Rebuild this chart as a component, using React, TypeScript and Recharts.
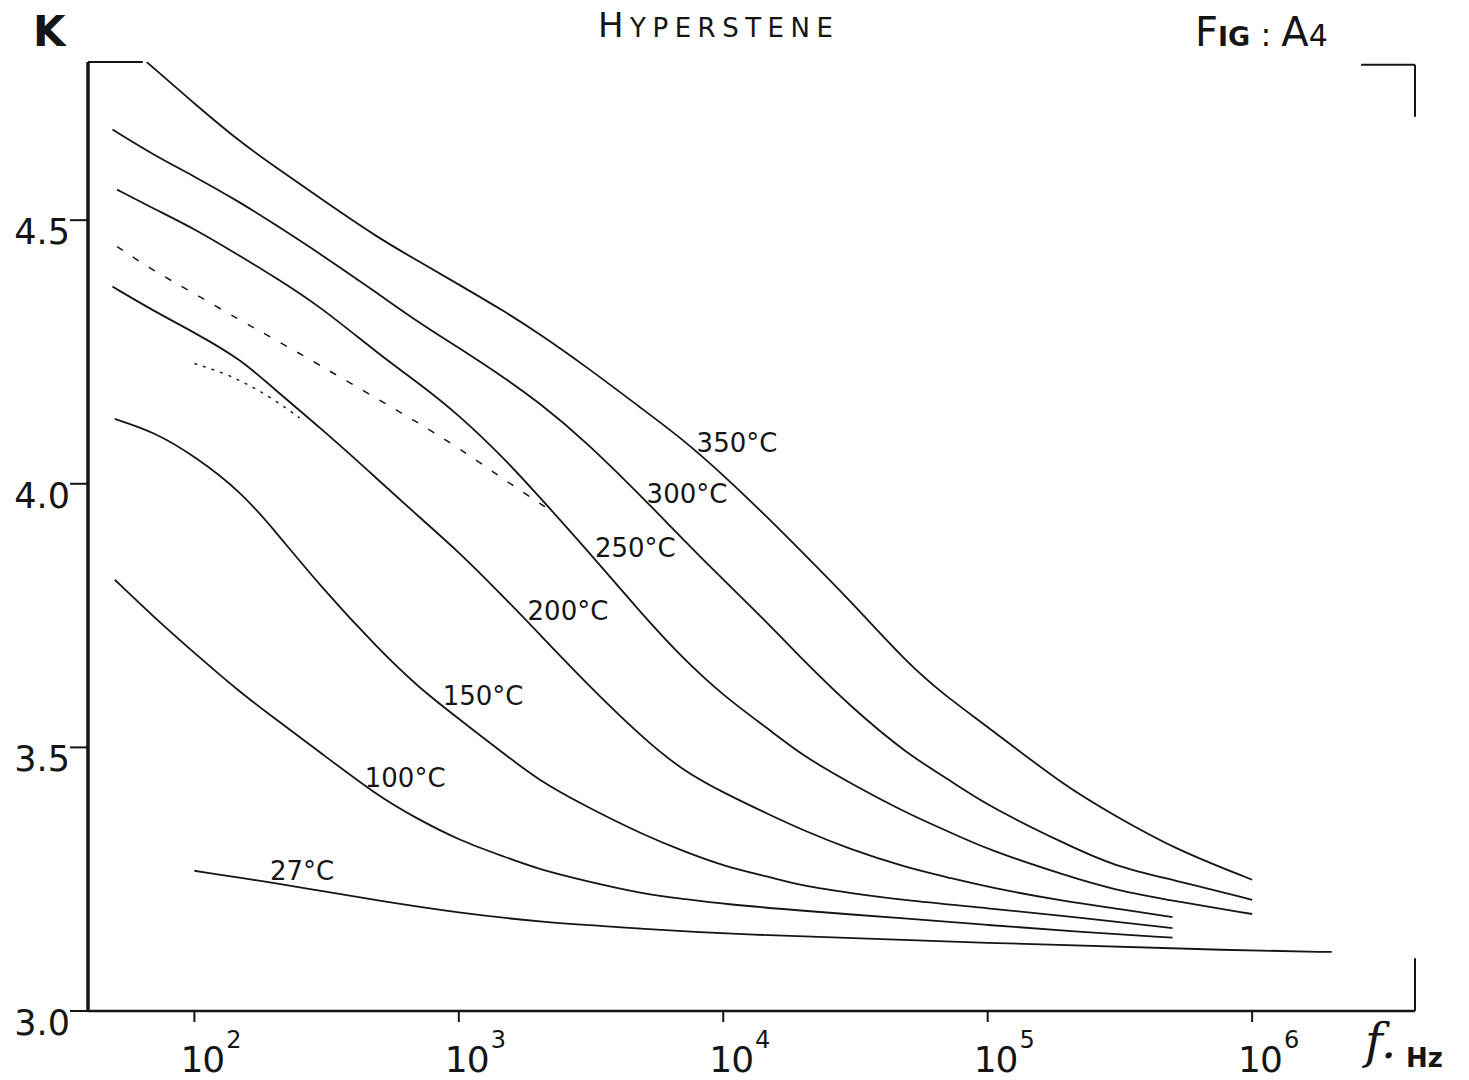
import React from "react";
import { LineChart, Line, XAxis, YAxis, ReferenceLine, ReferenceDot } from "recharts";

// Hyperstene: dielectric constant K vs frequency, at several temperatures
const freqTicks = [1e2, 1e3, 1e4, 1e5, 1e6];
const kTicks = [3.0, 3.5, 4.0, 4.5];

const fA = [66, 100, 150, 200, 300, 500, 700, 1e3, 1.5e3, 2e3, 3e3, 5e3, 7e3, 1e4, 1.5e4, 2e4, 3e4, 5e4, 7e4, 1e5, 2e5, 3e5, 5e5, 1e6];
const k350 = [4.8, 4.721, 4.647, 4.603, 4.541, 4.465, 4.423, 4.378, 4.326, 4.286, 4.224, 4.14, 4.085, 4.017, 3.932, 3.869, 3.78, 3.658, 3.596, 3.539, 3.423, 3.372, 3.309, 3.249];

const fB = [49, 70, 100, 150, 200, 300, 500, 700, 1e3, 1.5e3, 2e3, 3e3, 5e3, 7e3, 1e4, 1.5e4, 2e4, 3e4, 5e4, 7e4, 1e5, 2e5, 3e5, 5e5, 1e6];
const k300 = [4.672, 4.624, 4.583, 4.533, 4.493, 4.436, 4.359, 4.307, 4.258, 4.2, 4.155, 4.082, 3.972, 3.896, 3.818, 3.732, 3.666, 3.579, 3.486, 3.442, 3.389, 3.315, 3.275, 3.249, 3.211];

const fC = [51, 70, 100, 150, 200, 300, 500, 700, 1e3, 1.5e3, 2e3, 3e3, 5e3, 7e3, 1e4, 1.5e4, 2e4, 3e4, 5e4, 7e4, 1e5, 2e5, 3e5, 5e5, 1e6];
const k250 = [4.558, 4.522, 4.484, 4.431, 4.393, 4.336, 4.245, 4.192, 4.131, 4.046, 3.977, 3.879, 3.749, 3.67, 3.598, 3.533, 3.484, 3.433, 3.374, 3.342, 3.306, 3.256, 3.23, 3.209, 3.184];

// dashed branch joining the 250°C curve
const fDash = [51, 70, 100, 150, 200, 300, 500, 700, 1e3, 1.5e3, 2.2e3];
const kDash = [4.45, 4.404, 4.361, 4.309, 4.275, 4.224, 4.159, 4.116, 4.068, 4.006, 3.951];

const fD = [49, 70, 100, 150, 200, 300, 500, 700, 1e3, 1.5e3, 2e3, 3e3, 5e3, 7e3, 1e4, 1.5e4, 2e4, 3e4, 5e4, 7e4, 1e5, 2e5, 3e5, 5e5];
const k200 = [4.374, 4.328, 4.287, 4.236, 4.18, 4.106, 4.006, 3.939, 3.871, 3.782, 3.717, 3.624, 3.516, 3.457, 3.414, 3.372, 3.343, 3.307, 3.271, 3.254, 3.235, 3.207, 3.195, 3.178];

// dotted branch joining the 200°C curve
const fDot = [100, 130, 160, 200, 250];
const kDot = [4.228, 4.21, 4.188, 4.16, 4.125];

const fE = [50, 70, 100, 150, 200, 300, 500, 700, 1e3, 1.5e3, 2e3, 3e3, 5e3, 7e3, 1e4, 1.5e4, 2e4, 3e4, 5e4, 1e5, 2e5, 5e5];
const k150 = [4.123, 4.099, 4.053, 3.985, 3.913, 3.805, 3.685, 3.615, 3.554, 3.486, 3.438, 3.389, 3.334, 3.304, 3.275, 3.254, 3.237, 3.224, 3.209, 3.195, 3.18, 3.157];

const fF = [50, 70, 100, 150, 200, 300, 500, 700, 1e3, 1.5e3, 2e3, 3e3, 5e3, 7e3, 1e4, 2e4, 5e4, 1e5, 2e5, 5e5];
const k100 = [3.818, 3.748, 3.679, 3.603, 3.556, 3.49, 3.406, 3.364, 3.324, 3.292, 3.269, 3.247, 3.222, 3.213, 3.203, 3.19, 3.175, 3.163, 3.152, 3.139];

const fG = [100, 200, 300, 500, 1e3, 2e3, 5e3, 1e4, 1e5, 1e6, 2e6];
const k27 = [3.266, 3.243, 3.228, 3.209, 3.186, 3.169, 3.156, 3.146, 3.129, 3.114, 3.112];

const curveLabels = [
  { text: "350°C", f: 7.93e3, k: 4.061 },
  { text: "300°C", f: 5.13e3, k: 3.964 },
  { text: "250°C", f: 3.27e3, k: 3.861 },
  { text: "200°C", f: 1.82e3, k: 3.742 },
  { text: "150°C", f: 869, k: 3.581 },
  { text: "100°C", f: 441, k: 3.425 },
  { text: "27°C", f: 193, k: 3.249 },
];

const F_MIN = 39.6;
const F_MAX = 4.13e6;
const K_MIN = 3.0;
const K_MAX = 4.8;

const zip = (fs: number[], ks: number[]) => fs.map((f, i) => ({ f, k: ks[i] }));

const solid = [
  zip(fA, k350),
  zip(fB, k300),
  zip(fC, k250),
  zip(fD, k200),
  zip(fE, k150),
  zip(fF, k100),
  zip(fG, k27),
];

const INK = "#151515";
const FONT = "'DejaVu Sans', sans-serif";

function XTick(props: any) {
  const { x, y, payload } = props;
  const exp = Math.round(Math.log10(payload.value));
  return (
    <text x={x - 14} y={y + 48} fill={INK} fontFamily={FONT} fontSize={36} letterSpacing={-1}>
      10
      <tspan dx={2} dy={-24} fontSize={24}>{exp}</tspan>
    </text>
  );
}

function YTick(props: any) {
  const { x, y, payload } = props;
  return (
    <text x={x + 2} y={y + 24} textAnchor="end" fill={INK} fontFamily={FONT} fontSize={35}>
      {payload.value.toFixed(1)}
    </text>
  );
}

export default function App() {
  return (
    <div style={{ position: "relative", width: 1461, height: 1072, background: "#fff" }}>
      <LineChart width={1461} height={1072} margin={{ top: 54, right: 54, bottom: 9, left: 20 }}>
        <XAxis
          type="number"
          dataKey="f"
          scale="log"
          domain={[F_MIN, F_MAX]}
          ticks={freqTicks}
          allowDataOverflow
          height={60}
          tickSize={11}
          tickLine={{ stroke: INK, strokeWidth: 2 }}
          axisLine={{ stroke: INK, strokeWidth: 2.5 }}
          tick={<XTick />}
          interval={0}
        />
        <YAxis
          type="number"
          dataKey="k"
          domain={[K_MIN, K_MAX]}
          ticks={kTicks}
          allowDataOverflow
          width={60}
          tickSize={18}
          tickLine={{ stroke: INK, strokeWidth: 2 }}
          axisLine={{ stroke: INK, strokeWidth: 3.5 }}
          tick={<YTick />}
          interval={0}
        />
        {/* frame corner marks */}
        <ReferenceLine segment={[{ x: F_MIN, y: 4.8 }, { x: 63.8, y: 4.8 }]} stroke={INK} strokeWidth={2} />
        <ReferenceLine segment={[{ x: 2.58e6, y: 4.795 }, { x: F_MAX, y: 4.795 }]} stroke={INK} strokeWidth={2} />
        <ReferenceLine segment={[{ x: F_MAX, y: 4.795 }, { x: F_MAX, y: 4.696 }]} stroke={INK} strokeWidth={2} />
        <ReferenceLine segment={[{ x: F_MAX, y: 3.1 }, { x: F_MAX, y: 3.0 }]} stroke={INK} strokeWidth={2} />

        {solid.map((d, i) => (
          <Line
            key={i}
            data={d}
            dataKey="k"
            type="basis"
            stroke={INK}
            strokeWidth={1.8}
            dot={false}
            activeDot={false}
            isAnimationActive={false}
          />
        ))}
        <Line
          data={zip(fDash, kDash)}
          dataKey="k"
          type="basis"
          stroke={INK}
          strokeWidth={1.5}
          strokeDasharray="7 12"
          dot={false}
          activeDot={false}
          isAnimationActive={false}
        />
        <Line
          data={zip(fDot, kDot)}
          dataKey="k"
          type="basis"
          stroke={INK}
          strokeWidth={1.4}
          strokeDasharray="3 6"
          dot={false}
          activeDot={false}
          isAnimationActive={false}
        />
        {curveLabels.map((l) => (
          <ReferenceDot
            key={l.text}
            x={l.f}
            y={l.k}
            r={0}
            shape={(p: any) => (
              <text x={p.cx} y={p.cy} fill={INK} fontFamily={FONT} fontSize={26}>
                {l.text}
              </text>
            )}
          />
        ))}
      </LineChart>
      <svg
        width={1461}
        height={1072}
        style={{ position: "absolute", left: 0, top: 0, pointerEvents: "none", overflow: "visible" }}
      >
        <text x={25} y={38} fill={INK} fontFamily={FONT} fontWeight="bold" fontSize={42}>K</text>
        <text x={590} y={29} fill={INK} fontFamily={FONT} letterSpacing={6.5}>
          <tspan fontSize={34}>H</tspan>
          <tspan fontSize={26}>YPERSTENE</tspan>
        </text>
        <text x={1187} y={38} fill={INK} fontFamily={FONT}>
          <tspan fontSize={40}>F</tspan>
          <tspan fontSize={27} fontWeight="bold">IG</tspan>
          <tspan fontSize={32}> : </tspan>
          <tspan fontSize={40}>A</tspan>
          <tspan fontSize={30}>4</tspan>
        </text>
        <text x={1357} y={1050} fill={INK} fontFamily="'DejaVu Serif', serif" fontStyle="italic" fontSize={48}>f.</text>
        <text x={1398} y={1059} fill={INK} fontFamily={FONT} fontWeight="bold" fontSize={26}>Hz</text>
      </svg>
    </div>
  );
}
